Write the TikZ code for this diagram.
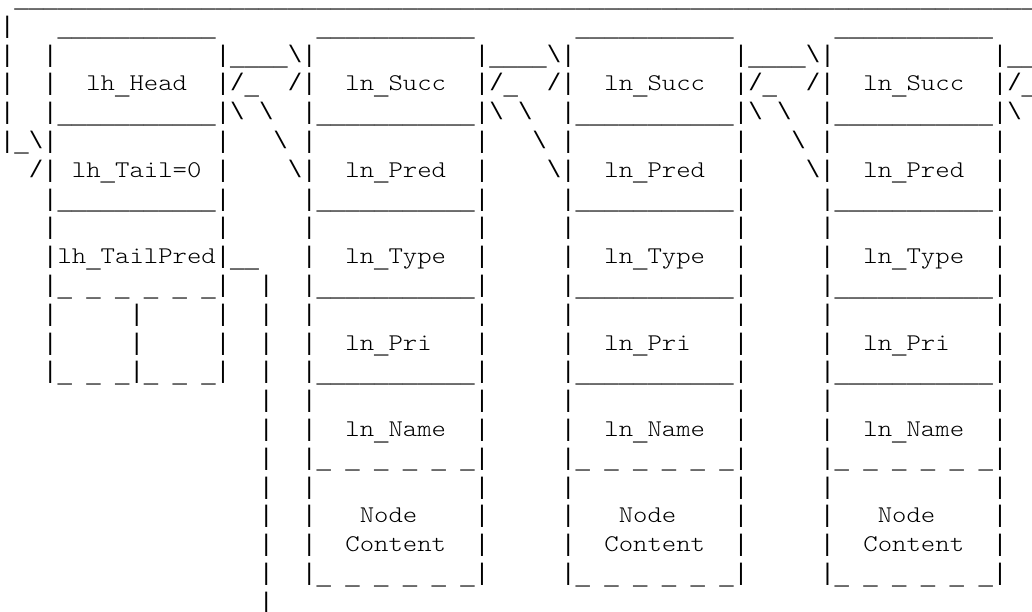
\documentclass[tikz,border=0pt]{standalone}
\usepackage{fontspec}
\newfontfamily\asciifont{Liberation Mono}
\newfontfamily\lmfont{lmmonolt10-regular.otf}[FakeStretch=1.143]
\ExplSyntaxOn
\cs_new_eq:NN \ExpRep \prg_replicate:nn
\ExplSyntaxOff
\newcommand\Spc[1]{\ExpRep{#1}{\ }}
\newcommand\Ub{\raisebox{-3.5pt}{\_}}
\newcommand\Usc[1]{\raisebox{-3.5pt}{\ExpRep{#1}{\_}}}
\newcommand\BS{\textbackslash}
\newcommand\Dsh{\Ub\ \Ub\ \Ub\ \Ub\ \Ub\ \Ub}
\newcommand\Wrd[1]{{\lmfont #1}}
\newcommand\ArtFont{\asciifont\fontsize{23.98pt}{28.8pt}\selectfont}
\tikzset{asc/.style={anchor=base west, inner sep=0pt, outer sep=0pt, font=\ArtFont, text=black}}
\begin{document}
\begin{tikzpicture}
\useasboundingbox (0,0) rectangle (1032pt,-612pt);
\fill[white] (0,0) rectangle (1032pt,-612pt);
\clip (0,0) rectangle (1032pt,-612pt);
\node[asc] (l0) at (0pt,-4.5pt) {\Spc{1}\Usc{71}};
\node[asc] (l1) at (0pt,-33.3pt) {|\Spc{3}\Usc{11}\Spc{7}\Usc{11}\Spc{7}\Usc{11}\Spc{7}\Usc{11}};
\node[asc] (l2) at (0pt,-62.1pt) {|\Spc{2}|\Spc{11}|\Usc{4}\BS|\Spc{11}|\Usc{4}\BS|\Spc{11}|\Usc{4}\BS|\Spc{11}|\Usc{2}};
\node[asc] (l3) at (0pt,-90.9pt) {|\Spc{2}|\Spc{2}\Wrd{lh}\Ub\Wrd{Head}\Spc{2}|/\Ub\Spc{2}/|\Spc{2}\Wrd{ln}\Ub\Wrd{Succ}\Spc{2}|/\Ub\Spc{2}/|\Spc{2}\Wrd{ln}\Ub\Wrd{Succ}\Spc{2}|/\Ub\Spc{2}/|\Spc{2}\Wrd{ln}\Ub\Wrd{Succ}\Spc{2}|/\Ub};
\node[asc] (l4) at (0pt,-119.7pt) {|\Spc{2}|\Usc{11}|\BS\ \BS\Spc{2}|\Usc{11}|\BS\ \BS\Spc{2}|\Usc{11}|\BS\ \BS\Spc{2}|\Usc{11}|\BS};
\node[asc] (l5) at (0pt,-148.5pt) {|\Ub\BS|\Spc{11}|\Spc{3}\BS\ |\Spc{11}|\Spc{3}\BS\ |\Spc{11}|\Spc{3}\BS\ |\Spc{11}|};
\node[asc] (l6) at (0pt,-177.3pt) {\Spc{2}/|\Spc{1}\Wrd{lh}\Ub\Wrd{Tail=0}\Spc{1}|\Spc{4}\BS|\Spc{2}\Wrd{ln}\Ub\Wrd{Pred}\Spc{2}|\Spc{4}\BS|\Spc{2}\Wrd{ln}\Ub\Wrd{Pred}\Spc{2}|\Spc{4}\BS|\Spc{2}\Wrd{ln}\Ub\Wrd{Pred}\Spc{2}|};
\node[asc] (l7) at (0pt,-206.1pt) {\Spc{3}|\Usc{11}|\Spc{5}|\Usc{11}|\Spc{5}|\Usc{11}|\Spc{5}|\Usc{11}|};
\node[asc] (l8) at (0pt,-234.9pt) {\Spc{3}|\Spc{11}|\Spc{5}|\Spc{11}|\Spc{5}|\Spc{11}|\Spc{5}|\Spc{11}|};
\node[asc] (l9) at (0pt,-263.7pt) {\Spc{3}|\Wrd{lh}\Ub\Wrd{TailPred}|\Usc{2}\Spc{3}|\Spc{2}\Wrd{ln}\Ub\Wrd{Type}\Spc{2}|\Spc{5}|\Spc{2}\Wrd{ln}\Ub\Wrd{Type}\Spc{2}|\Spc{5}|\Spc{2}\Wrd{ln}\Ub\Wrd{Type}\Spc{2}|};
\node[asc] (l10) at (0pt,-292.5pt) {\Spc{3}|\Dsh|\Spc{2}|\Spc{2}|\Usc{11}|\Spc{5}|\Usc{11}|\Spc{5}|\Usc{11}|};
\node[asc] (l11) at (0pt,-321.3pt) {\Spc{3}|\Spc{5}|\Spc{5}|\Spc{2}|\Spc{2}|\Spc{11}|\Spc{5}|\Spc{11}|\Spc{5}|\Spc{11}|};
\node[asc] (l12) at (0pt,-350.1pt) {\Spc{3}|\Spc{5}|\Spc{5}|\Spc{2}|\Spc{2}|\Spc{2}\Wrd{ln}\Ub\Wrd{Pri}\Spc{3}|\Spc{5}|\Spc{2}\Wrd{ln}\Ub\Wrd{Pri}\Spc{3}|\Spc{5}|\Spc{2}\Wrd{ln}\Ub\Wrd{Pri}\Spc{3}|};
\node[asc] (l13) at (0pt,-378.9pt) {\Spc{3}|\Ub\ \Ub\ \Ub|\Ub\ \Ub\ \Ub|\Spc{2}|\Spc{2}|\Usc{11}|\Spc{5}|\Usc{11}|\Spc{5}|\Usc{11}|};
\node[asc] (l14) at (0pt,-407.7pt) {\Spc{18}|\Spc{2}|\Spc{11}|\Spc{5}|\Spc{11}|\Spc{5}|\Spc{11}|};
\node[asc] (l15) at (0pt,-436.5pt) {\Spc{18}|\Spc{2}|\Spc{2}\Wrd{ln}\Ub\Wrd{Name}\Spc{2}|\Spc{5}|\Spc{2}\Wrd{ln}\Ub\Wrd{Name}\Spc{2}|\Spc{5}|\Spc{2}\Wrd{ln}\Ub\Wrd{Name}\Spc{2}|};
\node[asc] (l16) at (0pt,-465.3pt) {\Spc{18}|\Spc{2}|\Dsh|\Spc{5}|\Dsh|\Spc{5}|\Dsh|};
\node[asc] (l17) at (0pt,-494.1pt) {\Spc{18}|\Spc{2}|\Spc{11}|\Spc{5}|\Spc{11}|\Spc{5}|\Spc{11}|};
\node[asc] (l18) at (0pt,-522.9pt) {\Spc{18}|\Spc{2}|\Spc{3}\Wrd{Node}\Spc{4}|\Spc{5}|\Spc{3}\Wrd{Node}\Spc{4}|\Spc{5}|\Spc{3}\Wrd{Node}\Spc{4}|};
\node[asc] (l19) at (0pt,-551.7pt) {\Spc{18}|\Spc{2}|\Spc{2}\Wrd{Content}\Spc{2}|\Spc{5}|\Spc{2}\Wrd{Content}\Spc{2}|\Spc{5}|\Spc{2}\Wrd{Content}\Spc{2}|};
\node[asc] (l20) at (0pt,-580.5pt) {\Spc{18}|\Spc{2}|\Dsh|\Spc{5}|\Dsh|\Spc{5}|\Dsh|};
\node[asc] (l21) at (0pt,-609.3pt) {\Spc{18}|};
\end{tikzpicture}
\end{document}
